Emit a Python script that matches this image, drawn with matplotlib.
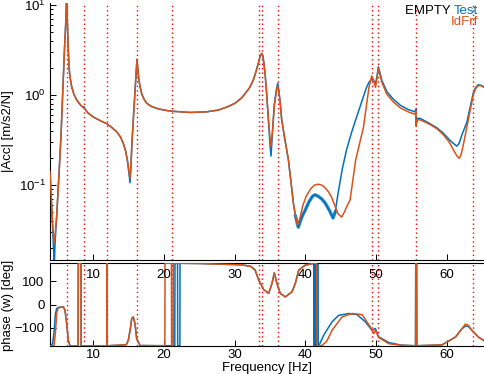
import numpy as np
import matplotlib
matplotlib.use("Agg")
import matplotlib.pyplot as plt
from matplotlib.ticker import LogLocator, FixedLocator, NullFormatter

plt.rcParams['font.family'] = ['Liberation Sans', 'DejaVu Sans']
plt.rcParams['mathtext.fontset'] = 'custom'
plt.rcParams['mathtext.rm'] = 'Liberation Sans'

BLUE = '#0072BD'
ORANGE = '#D95319'

# ---- data ----
mode_freqs = [6.29, 8.77, 11.98, 16.21, 21.16, 33.40, 33.91, 36.09, 49.4, 50.2, 55.6, 63.7]

idfrf_freq = [3.93, 4.05, 4.21, 4.35, 4.45, 4.53, 4.62, 4.75, 4.87, 5.05, 5.24, 5.48, 5.65, 5.81,
              5.98, 6.14, 6.22, 6.29, 6.35, 6.43, 6.52, 6.61, 6.75, 6.99, 7.3, 7.7, 8.2, 8.6, 8.7,
              8.77, 8.85, 9.3, 10.04, 11.0, 11.93, 12.6, 13.35, 13.9, 14.28, 14.6, 14.85, 15.05,
              15.23, 15.35, 15.5, 15.7, 15.85, 16.0, 16.1, 16.21, 16.3, 16.45, 16.64, 16.9, 17.2,
              17.58, 18.2, 19.0, 20.0, 21.16, 23.7, 26.0, 27.7, 29.0, 30.06, 31.0, 31.5, 32.1,
              32.64, 33.0, 33.35, 33.6, 33.83, 34.0, 34.15, 34.3, 34.5, 34.76, 35.0, 35.14, 35.35,
              35.6, 35.9, 36.09, 36.25, 36.45, 36.65, 37.1, 37.6, 38.0, 38.3, 38.6, 38.9, 39.2,
              39.6, 40.1, 40.8, 41.3, 41.8, 42.3, 42.8, 43.3, 43.7, 44.2, 44.6, 45.1, 45.5, 45.8,
              46.3, 47.1, 48.2, 48.6, 49.0, 49.36, 49.65, 49.9, 50.1, 50.3, 50.5, 50.8, 51.5,
              52.4, 53.4, 54.5, 55.5, 55.6, 55.62, 55.8, 56.2, 57.6, 58.6, 59.5, 60.3, 60.9, 61.4,
              61.74, 62.0, 62.3, 62.8, 63.3, 63.7, 64.0, 64.4, 64.8, 65.5]
idfrf_mag = [0.14, 0.09, 0.05, 0.033, 0.026, 0.023, 0.026, 0.034, 0.045, 0.08, 0.147, 0.35, 0.75, 1.6,
             3.3, 6.0, 9.0, 14.0, 8.0, 4.9, 3.2, 2.07, 1.6, 1.24, 1.02, 0.88, 0.78, 0.725, 0.715,
             0.72, 0.70, 0.63, 0.57, 0.52, 0.48, 0.44, 0.39, 0.34, 0.29, 0.24, 0.19, 0.15,
             0.119, 0.16, 0.3, 0.55, 0.85, 1.3, 1.8, 2.49, 2.1, 1.55, 1.24, 1.02, 0.9,
             0.81, 0.75, 0.71, 0.68, 0.66, 0.64, 0.65, 0.68, 0.74, 0.81, 0.93, 1.04, 1.2,
             1.47, 1.8, 2.25, 2.7, 2.9, 2.7, 2.2, 1.74, 1.1, 0.57, 0.33, 0.27, 0.4,
             0.75, 1.1, 1.26, 1.1, 0.8, 0.53, 0.32, 0.19, 0.1, 0.063, 0.045, 0.036, 0.042,
             0.058, 0.075, 0.092, 0.1, 0.102, 0.1, 0.093, 0.083, 0.073, 0.058, 0.048, 0.044, 0.05, 0.057,
             0.068, 0.19, 0.44, 0.75, 1.25, 1.63, 1.45, 1.22, 1.5, 2.03, 1.7, 1.38, 1.02,
             0.84, 0.72, 0.65, 0.61, 0.66, 0.45, 0.53, 0.53, 0.47, 0.42, 0.36, 0.3, 0.245, 0.21,
             0.198, 0.22, 0.28, 0.44, 0.7, 1.0, 1.17, 1.27, 1.27, 1.18]

test_freq = [3.93, 4.05, 4.21, 4.35, 4.45, 4.53, 4.62, 4.75, 4.87, 5.05, 5.24, 5.48, 5.65, 5.81,
             5.98, 6.14, 6.22, 6.29, 6.35, 6.43, 6.52, 6.61, 6.75, 6.99, 7.3, 7.7, 8.2, 8.6, 8.7,
             8.77, 8.85, 9.3, 10.04, 11.0, 11.93, 12.6, 13.35, 13.9, 14.28, 14.6, 14.85, 15.05,
             15.23, 15.35, 15.5, 15.7, 15.85, 16.0, 16.1, 16.21, 16.3, 16.45, 16.64, 16.9, 17.2,
             17.58, 18.2, 19.0, 20.0, 21.16, 23.7, 26.0, 27.7, 29.0, 30.06, 31.0, 31.5, 32.1,
             32.64, 33.0, 33.35, 33.6, 33.83, 34.0, 34.15, 34.3, 34.5, 34.76, 35.0, 35.14, 35.35,
             35.6, 35.9, 36.09, 36.25, 36.45, 36.65, 37.1, 37.6, 38.0, 38.3, 38.6, 38.9, 39.0,
             39.3, 39.6, 39.94, 40.5, 41.0, 41.35, 41.8, 42.3, 42.8, 43.4, 43.9, 44.2, 44.6,
             45.2, 45.8, 46.5, 47.2, 48.2, 48.6, 49.0, 49.4, 49.65, 49.9, 50.1, 50.3, 50.5, 50.8,
             51.5, 52.4, 53.4, 54.5, 55.5, 55.6, 55.62, 55.8, 56.2, 57.6, 58.6, 59.5, 60.3, 60.9,
             61.37, 61.7, 62.1, 62.8, 63.3, 63.7, 64.0, 64.4, 64.8, 65.5]
test_mag = [0.14, 0.09, 0.048, 0.028, 0.018, 0.012, 0.02, 0.032, 0.044, 0.08, 0.147, 0.35, 0.75, 1.6,
            3.3, 6.0, 9.0, 14.0, 8.0, 4.9, 3.2, 2.07, 1.6, 1.24, 1.02, 0.88, 0.78, 0.73, 0.725,
            0.74, 0.70, 0.63, 0.57, 0.52, 0.48, 0.44, 0.39, 0.34, 0.29, 0.24, 0.19, 0.14,
            0.106, 0.15, 0.29, 0.55, 0.85, 1.3, 1.8, 2.49, 2.1, 1.55, 1.24, 1.02, 0.9,
            0.81, 0.75, 0.71, 0.68, 0.66, 0.64, 0.65, 0.68, 0.74, 0.81, 0.93, 1.04, 1.2,
            1.47, 1.8, 2.25, 2.7, 2.9, 2.7, 2.2, 1.74, 1.1, 0.55, 0.28, 0.21, 0.38,
            0.78, 1.15, 1.35, 1.12, 0.8, 0.53, 0.32, 0.19, 0.1, 0.063, 0.045, 0.036, 0.034,
            0.04, 0.046, 0.052, 0.065, 0.075, 0.078, 0.075, 0.07, 0.063, 0.052, 0.043, 0.05, 0.08,
            0.15, 0.245, 0.38, 0.56, 0.96, 1.2, 1.4, 1.5, 1.42, 1.35, 1.6, 2.06, 1.8, 1.45,
            1.09, 0.9, 0.77, 0.69, 0.65, 0.7, 0.47, 0.55, 0.55, 0.48, 0.43, 0.375, 0.32, 0.29,
            0.27, 0.29, 0.36, 0.5, 0.75, 1.05, 1.2, 1.3, 1.28, 1.2]

idfrf_ph_freq = [3.93, 4.5, 4.7, 4.87, 5.05, 5.24, 5.81, 6.05, 6.29, 6.51, 6.75, 7.9, 7.93, 8.31,
                 8.33, 11.97, 11.99, 12.01, 14.7, 14.99, 15.25, 15.47, 15.69, 15.93, 16.17, 16.64,
                 20.15, 20.17, 21.08, 21.1, 21.33, 21.35, 25.0, 31.04, 32.3, 32.9, 33.4, 34.1, 34.8,
                 35.28, 35.6, 35.98, 36.45, 37.16, 38.1, 38.57, 39.05, 39.99, 41.17, 41.6, 41.64,
                 42.34, 43.0, 43.76, 45.17, 46.58, 48.0, 49.17, 49.65, 49.87, 50.35, 51.76, 53.5,
                 55.55, 55.58, 55.7, 55.73, 59.3, 61.2, 62.1, 62.6, 63.0, 63.5, 64.5, 65.5]
idfrf_ph = [-179, -178, -120, -40, -18, -13, -10, -25, -83, -155, -179, -179, 179, 179,
            -179, -179, 179, -179, -175, -155, -110, -61, -54, -83, -148, -178,
            -179, 179, 179, -179, -179, 179, 178, 172, 165, 149, 106, 65, 48,
            91, 137, 91, 48, 33, 55, 91, 149, 171, 179, 179, -179,
            -178, -160, -112, -54, -39, -44, -97, -126, -112, -143, -170, -177,
            -179, 179, 179, -179, -175, -141, -105, -85, -90, -112, -143, -162]

test_ph_freq = [3.93, 4.3, 4.5, 4.7, 4.87, 5.05, 5.24, 5.81, 6.05, 6.29, 6.51, 6.75, 7.9, 7.93, 8.31,
                8.33, 11.97, 11.99, 12.01, 14.7, 14.99, 15.25, 15.47, 15.69, 15.93, 16.17, 16.64,
                21.55, 21.58, 21.94, 21.96, 22.27, 22.29, 25.0, 31.04, 32.3, 32.9, 33.4, 34.1, 34.8,
                35.28, 35.6, 35.98, 36.45, 37.16, 38.1, 38.57, 39.05, 39.99, 41.17,
                41.21, 41.25, 41.29, 41.33, 41.37, 41.41, 41.45, 41.49, 41.53, 41.57, 41.61, 41.65,
                41.69, 41.73, 41.77, 41.9, 42.58, 43.76, 44.7, 46.12, 47.29, 48.46, 49.41, 49.87,
                50.35, 51.76, 53.5, 55.55, 55.58, 55.7, 55.73, 59.3, 61.2, 62.1, 62.6, 63.0, 63.5,
                64.5, 65.5]
test_ph = [-179, -170, -120, -40, -18, -13, -12, -10, -25, -83, -155, -179, -179, 179, 179,
           -179, -179, 179, -179, -175, -155, -110, -61, -54, -83, -148, -178,
           -179, 179, 179, -179, -179, 179, 178, 172, 165, 149, 106, 65, 48,
           91, 137, 91, 48, 33, 55, 91, 149, 171, 178,
           -179, 179, -179, 179, -179, 179, -179, 179, -179, 179, -179, 179,
           -179, 179, -179, -179, -133, -75, -47, -39, -44, -75, -112, -104,
           -140, -165, -176, -179, 179, 179, -179, -175, -141, -105, -94, -95, -112,
           -143, -162]

x_ticks = [10, 20, 30, 40, 50, 60]
phase_ticks = [-100, 0, 100]

# ---- figure ----
W, H = 484, 374
fig = plt.figure(figsize=(W / 100, H / 100), dpi=100)

def px_rect(x0, y0, x1, y1):
    return [x0 / W, 1 - y1 / H, (x1 - x0) / W, (y1 - y0) / H]

ax_ph = fig.add_axes(px_rect(50, 263, 486, 346))
ax_mag = fig.add_axes(px_rect(50, 3, 486, 260))
ax_mag.set_zorder(3)
ax_mag.patch.set_alpha(0)

XLIM = (3.93, 65.5)
FS = 9.5
LW = 1.1

# magnitude
for f in mode_freqs:
    ax_mag.axvline(f, color='red', lw=1.0, ls=(0, (1, 2.2)), zorder=1)
ax_mag.plot(test_freq, test_mag, color=BLUE, lw=LW, zorder=2)
tf = np.array(test_freq)
tm = np.array(test_mag)
noisy = (tf >= 38.6) & (tf <= 44.4)
ax_mag.plot(tf[noisy], tm[noisy], color=BLUE, lw=2.4, alpha=0.8, zorder=2)
ax_mag.plot(idfrf_freq, idfrf_mag, color=ORANGE, lw=LW, zorder=3)
ax_mag.set_yscale('log')
ax_mag.set_xlim(*XLIM)
ax_mag.set_ylim(10 ** -1.833, 10 ** 1.022)
ax_mag.yaxis.set_major_locator(LogLocator(base=10, numticks=10))
ax_mag.yaxis.set_minor_locator(LogLocator(base=10, subs=np.arange(2, 10), numticks=10))
ax_mag.yaxis.set_minor_formatter(NullFormatter())
ax_mag.xaxis.set_major_locator(FixedLocator(x_ticks))
ax_mag.tick_params(axis='both', which='both', direction='in', labelsize=FS, width=0.7)
ax_mag.tick_params(axis='x', which='major', length=4, pad=6.5)
ax_mag.tick_params(axis='y', which='major', length=4, pad=3)
ax_mag.tick_params(axis='y', which='minor', length=2)
for s in ['top', 'right']:
    ax_mag.spines[s].set_visible(False)
for s in ['left', 'bottom']:
    ax_mag.spines[s].set_linewidth(0.8)

# phase
for f in mode_freqs:
    ax_ph.axvline(f, color='red', lw=1.0, ls=(0, (1, 2.2)), zorder=1)
ax_ph.plot(test_ph_freq, test_ph, color=BLUE, lw=LW, zorder=2)
ax_ph.plot(idfrf_ph_freq, idfrf_ph, color=ORANGE, lw=LW, zorder=3)
ax_ph.set_xlim(*XLIM)
ax_ph.set_ylim(-180, 180)
ax_ph.xaxis.set_major_locator(FixedLocator(x_ticks))
ax_ph.yaxis.set_major_locator(FixedLocator(phase_ticks))
ax_ph.tick_params(axis='both', which='both', direction='in', labelsize=FS, width=0.7, length=4)
ax_ph.tick_params(axis='x', pad=2.5)
ax_ph.tick_params(axis='y', pad=4)
ax_ph.spines['right'].set_visible(False)
for s in ['left', 'bottom', 'top']:
    ax_ph.spines[s].set_linewidth(0.8)

# labels
fig.text(8.5 / W, 1 - 131 / H, '|Acc| [m/s2/N]', rotation=90, ha='center', va='center', fontsize=FS)
fig.text(8.5 / W, 1 - 305 / H, 'phase (w) [deg]', rotation=90, ha='center', va='center', fontsize=FS)
fig.text(267 / W, 1 - 367.5 / H, 'Frequency [Hz]', ha='center', va='center', fontsize=FS)

# legend-like text
t_test = fig.text(478 / W, 1 - 11.5 / H, 'Test', color=BLUE, ha='right', va='center', fontsize=9.5, zorder=10)
fig.canvas.draw()
bb = t_test.get_window_extent()
fig.text(bb.x0 / W, 1 - 11.5 / H, 'EMPTY ', color='black', ha='right', va='center', fontsize=9.5, zorder=10)
fig.text(478 / W, 1 - 22 / H, 'IdFrf', color=ORANGE, ha='right', va='center', fontsize=9.5, zorder=10)

fig.savefig('out.png', dpi=100)
